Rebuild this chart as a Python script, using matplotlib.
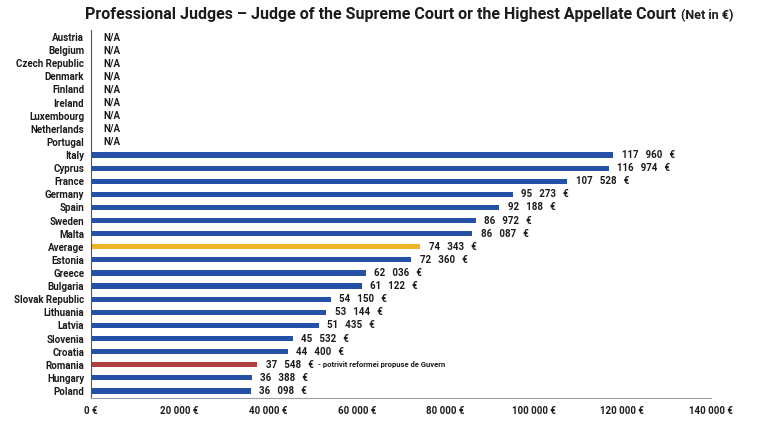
import matplotlib.pyplot as plt

# countries with no data, shown as N/A
na_countries = ["Austria", "Belgium", "Czech Republic", "Denmark", "Finland",
                "Ireland", "Luxembourg", "Netherlands", "Portugal"]

countries = ["Italy", "Cyprus", "France", "Germany", "Spain", "Sweden", "Malta",
             "Average", "Estonia", "Greece", "Bulgaria", "Slovak Republic",
             "Lithuania", "Latvia", "Slovenia", "Croatia", "Romania", "Hungary",
             "Poland"]
salaries = [117960, 116974, 107528, 95273, 92188, 86972, 86087,
            74343, 72360, 62036, 61122, 54150,
            53144, 51435, 45532, 44400, 37548, 36388,
            36098]

xticks = [0, 20000, 40000, 60000, 80000, 100000, 120000, 140000]
xticklabels = ["0 €", "20 000 €", "40 000 €", "60 000 €", "80 000 €",
               "100 000 €", "120 000 €", "140 000 €"]

romania_note = "- potrivit reformei propuse de Guvern"

BLUE = "#2451a6"
GOLD = "#f0b32c"
RED = "#b0403f"
TXT = "#1c1c1c"

plt.rcParams['font.family'] = ["Roboto", "DejaVu Sans"]

fig = plt.figure(figsize=(7.68, 4.30), dpi=100)
ax = fig.add_axes([91/768, 1 - 397.5/430, (711-91)/768, (397.5-30.5)/430])

labels = na_countries + countries
n = len(labels)
ypos = list(range(n))

colors = []
for c in countries:
    if c == "Average":
        colors.append(GOLD)
    elif c == "Romania":
        colors.append(RED)
    else:
        colors.append(BLUE)

yb = ypos[len(na_countries):]
ax.barh(yb, salaries, height=0.4, color=colors)

# N/A labels
for i in range(len(na_countries)):
    ax.annotate("N/A", xy=(0, i), xytext=(9, 0), textcoords="offset points",
                va="center", ha="left", fontsize=7, fontweight="bold", color=TXT)

# value labels
for y, v, c in zip(yb, salaries, countries):
    s = "%d   %03d   €" % (v // 1000, v % 1000)
    t = ax.annotate(s, xy=(v, y), xytext=(6, 0), textcoords="offset points",
                    va="center", ha="left", fontsize=7, fontweight="bold", color=TXT)
    if c == "Romania":
        ax.annotate(romania_note, xy=(1, 0.5), xycoords=t, xytext=(3, 0),
                    textcoords="offset points", va="center", ha="left",
                    fontsize=5.5, fontweight="bold", color=TXT)

ax.set_yticks(ypos)
ax.set_yticklabels(labels, fontsize=7, fontweight="bold", color=TXT)
ax.set_ylim(n - 0.5, -0.5)
ax.set_xlim(0, 140000)
ax.set_xticks(xticks)
ax.set_xticklabels(xticklabels, fontsize=7, fontweight="bold", color=TXT)
ax.tick_params(length=0, pad=5)
ax.tick_params(axis="x", pad=6)

for s in ["top", "right"]:
    ax.spines[s].set_visible(False)
ax.spines["left"].set_color("#555555")
ax.spines["left"].set_linewidth(0.8)
ax.spines["bottom"].set_color("#9aa0aa")
ax.spines["bottom"].set_linewidth(0.8)

# title + smaller unit note right after it
title = fig.text(85/768, 1 - 15/430,
                 "Professional Judges – Judge of the Supreme Court or the Highest Appellate Court",
                 fontsize=11.5, fontweight="bold", color=TXT, va="center", ha="left")
ax.annotate("(Net in €)", xy=(1, 0.45), xycoords=title, xytext=(4, 0),
            textcoords="offset points", va="center", ha="left",
            fontsize=9, fontweight="bold", color=TXT, annotation_clip=False)

fig.savefig("out.png", dpi=100)
